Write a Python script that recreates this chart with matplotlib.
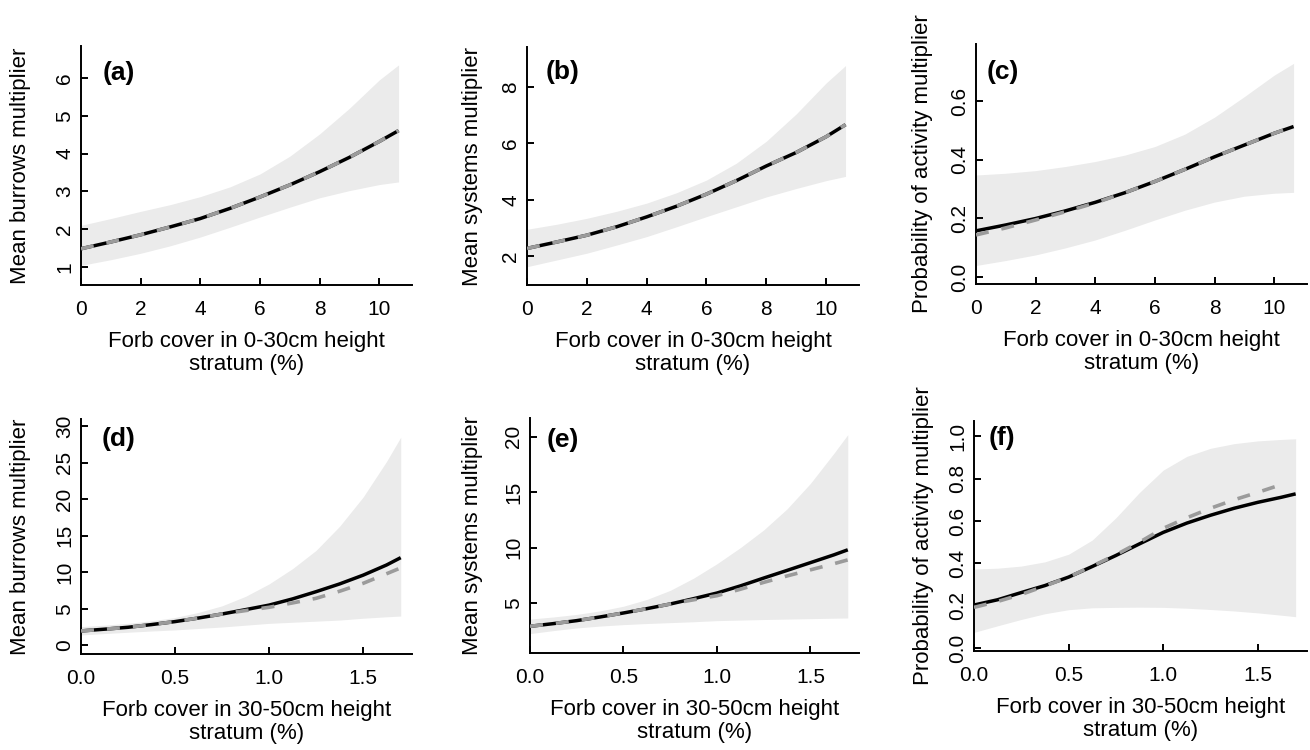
import numpy as np
import matplotlib
matplotlib.use("Agg")
import matplotlib.pyplot as plt

plt.rcParams['font.family'] = ['Liberation Sans', 'DejaVu Sans']

# x values
x_low = [0, 1, 2, 3, 4, 5, 6, 7, 8, 9, 10, 10.65]  # forb cover 0-30cm
x_high = [0, 0.125, 0.25, 0.375, 0.5, 0.625, 0.75, 0.875, 1.0, 1.125, 1.25, 1.375, 1.5, 1.625, 1.7]  # 30-50cm

# (a) burrows, 0-30cm
a_fit = [1.48, 1.66, 1.85, 2.06, 2.28, 2.55, 2.85, 3.17, 3.52, 3.90, 4.32, 4.61]
a_avg = [1.48, 1.66, 1.85, 2.06, 2.28, 2.55, 2.85, 3.17, 3.52, 3.90, 4.32, 4.61]
a_hi = [2.10, 2.28, 2.47, 2.65, 2.86, 3.12, 3.46, 3.93, 4.52, 5.20, 5.95, 6.35]
a_lo = [1.04, 1.19, 1.36, 1.56, 1.79, 2.05, 2.32, 2.58, 2.83, 3.02, 3.18, 3.25]

# (b) systems, 0-30cm
b_fit = [2.27, 2.50, 2.74, 3.04, 3.39, 3.77, 4.20, 4.68, 5.20, 5.68, 6.24, 6.67]
b_avg = [2.27, 2.50, 2.74, 3.04, 3.39, 3.77, 4.20, 4.68, 5.20, 5.68, 6.24, 6.67]
b_hi = [2.95, 3.13, 3.34, 3.59, 3.88, 4.25, 4.70, 5.30, 6.08, 7.05, 8.15, 8.77]
b_lo = [1.62, 1.86, 2.10, 2.39, 2.69, 3.04, 3.40, 3.75, 4.10, 4.40, 4.68, 4.83]

# (c) activity, 0-30cm
c_fit = [0.158, 0.178, 0.200, 0.226, 0.255, 0.288, 0.326, 0.367, 0.410, 0.450, 0.490, 0.513]
c_avg = [0.144, 0.168, 0.195, 0.223, 0.253, 0.288, 0.326, 0.367, 0.410, 0.450, 0.490, 0.513]
c_hi = [0.348, 0.354, 0.363, 0.377, 0.394, 0.416, 0.445, 0.487, 0.545, 0.615, 0.688, 0.728]
c_lo = [0.040, 0.057, 0.076, 0.100, 0.127, 0.160, 0.195, 0.228, 0.256, 0.276, 0.286, 0.289]

# (d) burrows, 30-50cm
d_fit = [1.96, 2.20, 2.46, 2.83, 3.24, 3.73, 4.28, 4.88, 5.50, 6.35, 7.34, 8.40, 9.60, 11.0, 12.0]
d_avg = [1.96, 2.20, 2.46, 2.83, 3.24, 3.73, 4.28, 4.75, 5.20, 5.80, 6.43, 7.40, 8.48, 9.80, 10.6]
d_hi = [2.55, 2.75, 3.00, 3.35, 3.80, 4.50, 5.40, 6.70, 8.40, 10.5, 13.0, 16.3, 20.3, 25.2, 28.5]
d_lo = [1.41, 1.60, 1.78, 1.95, 2.10, 2.30, 2.50, 2.75, 3.00, 3.15, 3.30, 3.45, 3.70, 3.90, 4.00]

# (e) systems, 30-50cm
e_fit = [2.91, 3.15, 3.42, 3.75, 4.11, 4.50, 4.92, 5.40, 5.91, 6.55, 7.26, 7.95, 8.65, 9.35, 9.81]
e_avg = [2.91, 3.15, 3.42, 3.75, 4.11, 4.50, 4.92, 5.30, 5.67, 6.25, 6.87, 7.45, 8.00, 8.55, 8.90]
e_hi = [3.56, 3.75, 3.98, 4.30, 4.72, 5.33, 6.15, 7.25, 8.55, 10.0, 11.6, 13.5, 15.8, 18.5, 20.2]
e_lo = [2.25, 2.52, 2.76, 2.93, 3.06, 3.16, 3.24, 3.32, 3.42, 3.47, 3.52, 3.56, 3.60, 3.64, 3.66]

# (f) activity, 30-50cm
f_fit = [0.203, 0.228, 0.262, 0.295, 0.335, 0.385, 0.437, 0.492, 0.546, 0.590, 0.627, 0.660, 0.688, 0.712, 0.728]
f_avg = [0.192, 0.220, 0.253, 0.293, 0.335, 0.387, 0.440, 0.500, 0.565, 0.615, 0.660, 0.700, 0.735, 0.772, np.nan]
f_hi = [0.373, 0.377, 0.387, 0.407, 0.443, 0.510, 0.615, 0.735, 0.840, 0.905, 0.943, 0.965, 0.978, 0.985, 0.988]
f_lo = [0.074, 0.105, 0.135, 0.162, 0.181, 0.190, 0.192, 0.193, 0.192, 0.188, 0.182, 0.175, 0.166, 0.155, 0.148]

xlab_low = "Forb cover in 0-30cm height\nstratum (%)"
xlab_high = "Forb cover in 30-50cm height\nstratum (%)"

panels = [
    # letter, x, fit, avg, hi, lo, ylabel, yticks, yticklabels, ylim
    ("(a)", x_low, a_fit, a_avg, a_hi, a_lo, "Mean burrows multiplier",
     [1, 2, 3, 4, 5, 6], None, (0.52, 6.85)),
    ("(b)", x_low, b_fit, b_avg, b_hi, b_lo, "Mean systems multiplier",
     [2, 4, 6, 8], None, (0.97, 9.43)),
    ("(c)", x_low, c_fit, c_avg, c_hi, c_lo, "Probability of activity multiplier",
     [0, 0.2, 0.4, 0.6], ["0.0", "0.2", "0.4", "0.6"], (-0.023, 0.794)),
    ("(d)", x_high, d_fit, d_avg, d_hi, d_lo, "Mean burrows multiplier",
     [0, 5, 10, 15, 20, 25, 30], None, (-1.2, 31.0)),
    ("(e)", x_high, e_fit, e_avg, e_hi, e_lo, "Mean systems multiplier",
     [5, 10, 15, 20], None, (0.5, 21.7)),
    ("(f)", x_high, f_fit, f_avg, f_hi, f_lo, "Probability of activity multiplier",
     [0, 0.2, 0.4, 0.6, 0.8, 1.0], ["0.0", "0.2", "0.4", "0.6", "0.8", "1.0"], (-0.014, 1.072)),
]

# axes boxes in pixels: left, right, top, bottom
boxes = [(81, 412, 46, 285), (527, 859, 47, 285), (976, 1307, 44, 284),
         (81, 412, 419, 654), (530, 859, 418, 653), (974, 1307, 421, 651)]
# y label distance (px, right edge of rotated label to spine)
ylab_off = [50, 44, 43, 50, 47, 40]
# panel letter positions (axes fraction)
letter_pos = [(0.066, 0.887), (0.057, 0.895), (0.033, 0.883),
              (0.063, 0.915), (0.052, 0.906), (0.045, 0.926)]

W, H = 1310, 750
fig = plt.figure(figsize=(W / 100, H / 100), dpi=100)

for i, (letter, x, fit, avg, hi, lo, ylab, yt, ytl, ylim) in enumerate(panels):
    l, r, t, b = boxes[i]
    ax = fig.add_axes([l / W, 1 - b / H, (r - l) / W, (b - t) / H])

    ax.fill_between(x, lo, hi, color='#ebebeb', linewidth=0, zorder=1)
    ax.plot(x, fit, color='black', lw=2.5, solid_capstyle='butt', zorder=2)
    ax.plot(x, avg, color='#9b9b9b', lw=2.6, linestyle=(0, (3.6, 3.6)),
            dash_capstyle='butt', zorder=3)

    if i < 3:
        ax.set_xlim(0, 11.1)
        ax.set_xticks([0, 2, 4, 6, 8, 10])
        ax.set_xlabel(xlab_low, fontsize=16, linespacing=1.1)
    else:
        ax.set_xlim(0, 1.76)
        ax.set_xticks([0, 0.5, 1.0, 1.5])
        ax.set_xticklabels(["0.0", "0.5", "1.0", "1.5"])
        ax.set_xlabel(xlab_high, fontsize=16, linespacing=1.1)
    ax.set_ylim(*ylim)
    ax.set_yticks(yt)
    if ytl is not None:
        ax.set_yticklabels(ytl)
    ax.set_ylabel(ylab, fontsize=16)

    for s in ['top', 'right']:
        ax.spines[s].set_visible(False)
    for s in ['left', 'bottom']:
        ax.spines[s].set_linewidth(1.4)

    ax.tick_params(direction='in', length=5, width=1.4, labelsize=15)
    ax.tick_params(axis='x', pad=10.5)
    ax.tick_params(axis='y', pad=5, labelrotation=90)
    for lab in ax.get_yticklabels():
        lab.set_va('center')

    hpx = b - t
    wpx = r - l
    ax.xaxis.set_label_coords(0.5, -46 / hpx)
    ax.yaxis.set_label_coords(-ylab_off[i] / wpx, 0.5)

    ax.text(letter_pos[i][0], letter_pos[i][1], letter, transform=ax.transAxes,
            fontsize=19, fontweight='bold', ha='left', va='center')

fig.savefig("out.png", dpi=100)
